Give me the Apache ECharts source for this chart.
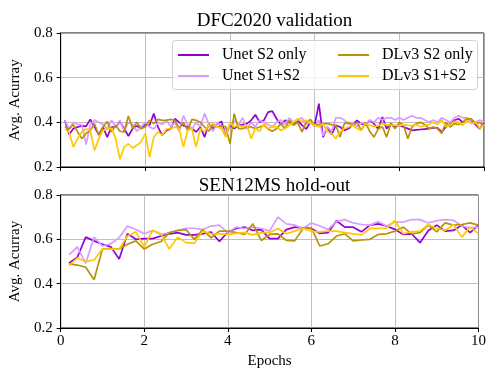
<!DOCTYPE html>
<html>
<head>
<meta charset="utf-8">
<script src="https://cdn.jsdelivr.net/npm/echarts@6/dist/echarts.min.js"></script>
<style>html,body{margin:0;padding:0;background:#fff;}#c{width:489px;height:370px;}</style>
</head>
<body>
<div id="c"></div>
<script>
const seriesNames = ['Unet S2 only', 'Unet S1+S2', 'DLv3 S2 only', 'DLv3 S1+S2'];
const colors = ['#9400D3', '#D99BFF', '#B8920B', '#FFC800'];
const xTicks = [0, 2, 4, 6, 8, 10];
const yTicks = [0.2, 0.4, 0.6, 0.8];

const epochsTop = [0.1,0.2,0.3,0.4,0.5,0.6,0.7,0.8,0.9,1.0,1.1,1.2,1.3,1.4,1.5,1.6,1.7,1.8,1.9,2.0,
  2.1,2.2,2.3,2.4,2.5,2.6,2.7,2.8,2.9,3.0,3.1,3.2,3.3,3.4,3.5,3.6,3.7,3.8,3.9,4.0,
  4.1,4.2,4.3,4.4,4.5,4.6,4.7,4.8,4.9,5.0,5.1,5.2,5.3,5.4,5.5,5.6,5.7,5.8,5.9,6.0,
  6.1,6.2,6.3,6.4,6.5,6.6,6.7,6.8,6.9,7.0,7.1,7.2,7.3,7.4,7.5,7.6,7.7,7.8,7.9,8.0,
  8.1,8.2,8.3,8.4,8.5,8.6,8.7,8.8,8.9,9.0,9.1,9.2,9.3,9.4,9.5,9.6,9.7,9.8,9.9,10.0];

const dfcUnetS2 = [0.409,0.345,0.372,0.379,0.384,0.382,0.413,0.379,0.345,0.379,
  0.334,0.379,0.379,0.404,0.372,0.339,0.372,0.384,0.372,0.390,
  0.387,0.439,0.379,0.342,0.364,0.370,0.416,0.400,0.385,0.379,
  0.372,0.357,0.379,0.334,0.394,0.372,0.394,0.404,0.342,0.387,
  0.372,0.387,0.390,0.394,0.409,0.434,0.400,0.409,0.446,0.450,
  0.416,0.390,0.409,0.400,0.390,0.409,0.387,0.370,0.400,0.387,
  0.484,0.334,0.379,0.345,0.387,0.379,0.364,0.372,0.390,0.409,
  0.394,0.387,0.409,0.394,0.370,0.424,0.372,0.394,0.379,0.387,
  0.379,0.372,0.364,0.366,0.368,0.370,0.372,0.376,0.375,0.357,
  0.379,0.394,0.409,0.416,0.400,0.416,0.409,0.390,0.370,0.400];
const dfcUnetS1S2 = [0.41,0.37,0.40,0.39,0.39,0.30,0.39,0.41,0.40,0.39,
  0.37,0.41,0.38,0.41,0.36,0.40,0.39,0.36,0.38,0.40,
  0.38,0.37,0.40,0.39,0.41,0.38,0.40,0.36,0.43,0.39,
  0.37,0.40,0.38,0.44,0.39,0.36,0.40,0.38,0.35,0.39,
  0.41,0.39,0.42,0.37,0.40,0.38,0.41,0.40,0.39,0.38,
  0.40,0.41,0.39,0.42,0.40,0.41,0.42,0.39,0.40,0.38,
  0.41,0.34,0.38,0.36,0.42,0.42,0.41,0.39,0.40,0.38,
  0.40,0.39,0.41,0.40,0.42,0.41,0.42,0.42,0.41,0.42,
  0.41,0.42,0.43,0.42,0.42,0.41,0.40,0.41,0.40,0.42,
  0.41,0.40,0.42,0.43,0.42,0.42,0.41,0.40,0.41,0.40];
const dfcDlS2 = [0.380,0.370,0.390,0.357,0.327,0.350,0.364,0.394,0.342,0.379,
  0.404,0.357,0.387,0.360,0.357,0.428,0.372,0.400,0.372,0.379,
  0.409,0.394,0.413,0.409,0.410,0.413,0.409,0.372,0.400,0.364,
  0.413,0.409,0.400,0.379,0.360,0.390,0.379,0.385,0.380,0.304,
  0.439,0.372,0.372,0.379,0.379,0.372,0.379,0.387,0.370,0.360,
  0.372,0.394,0.372,0.409,0.387,0.400,0.357,0.400,0.413,0.387,
  0.390,0.394,0.394,0.390,0.387,0.334,0.394,0.400,0.387,0.400,
  0.364,0.400,0.360,0.334,0.370,0.380,0.334,0.394,0.372,0.400,
  0.387,0.327,0.379,0.394,0.400,0.390,0.372,0.379,0.372,0.350,
  0.400,0.379,0.394,0.390,0.400,0.416,0.416,0.394,0.400,0.379];
const dfcDlS1S2 = [0.370,0.357,0.290,0.327,0.357,0.370,0.364,0.274,0.327,0.364,
  0.370,0.374,0.327,0.234,0.289,0.304,0.285,0.297,0.312,0.350,
  0.244,0.334,0.357,0.342,0.370,0.372,0.379,0.372,0.289,0.364,
  0.372,0.289,0.372,0.357,0.387,0.394,0.379,0.372,0.334,0.400,
  0.379,0.387,0.379,0.387,0.327,0.372,0.360,0.394,0.372,0.380,
  0.379,0.364,0.372,0.387,0.400,0.416,0.404,0.409,0.398,0.387,
  0.379,0.394,0.357,0.350,0.327,0.357,0.372,0.379,0.387,0.372,
  0.364,0.394,0.387,0.380,0.385,0.394,0.390,0.387,0.387,0.385,
  0.390,0.387,0.385,0.390,0.380,0.385,0.390,0.400,0.390,0.412,
  0.380,0.390,0.404,0.400,0.387,0.409,0.394,0.400,0.372,0.390];

const epochsBottom = [0.2,0.4,0.6,0.8,1.0,1.2,1.4,1.6,1.8,2.0,2.2,2.4,2.6,2.8,3.0,3.2,3.4,3.6,3.8,4.0,
  4.2,4.4,4.6,4.8,5.0,5.2,5.4,5.6,5.8,6.0,6.2,6.4,6.6,6.8,7.0,7.2,7.4,7.6,7.8,8.0,
  8.2,8.4,8.6,8.8,9.0,9.2,9.4,9.6,9.8,10.0];

const senUnetS2 = [0.492,0.519,0.610,0.593,0.578,0.566,0.511,0.625,0.600,0.603,
  0.603,0.615,0.625,0.630,0.620,0.620,0.625,0.633,0.590,0.633,
  0.649,0.655,0.640,0.644,0.603,0.603,0.644,0.655,0.652,0.649,
  0.627,0.630,0.684,0.655,0.655,0.634,0.664,0.670,0.660,0.645,
  0.622,0.625,0.585,0.640,0.664,0.637,0.640,0.664,0.630,0.664];
const senUnetS1S2 = [0.530,0.566,0.492,0.610,0.570,0.580,0.608,0.660,0.644,0.625,
  0.640,0.622,0.630,0.640,0.650,0.650,0.644,0.660,0.664,0.630,
  0.655,0.649,0.655,0.649,0.637,0.700,0.670,0.664,0.649,0.674,
  0.660,0.645,0.680,0.689,0.674,0.667,0.664,0.680,0.660,0.678,
  0.678,0.689,0.689,0.674,0.684,0.689,0.686,0.660,0.652,0.655];
const senDlS2 = [0.489,0.484,0.474,0.418,0.556,0.558,0.556,0.578,0.593,0.556,
  0.578,0.590,0.630,0.640,0.644,0.600,0.644,0.607,0.637,0.637,
  0.630,0.622,0.670,0.595,0.622,0.625,0.595,0.593,0.649,0.652,
  0.570,0.580,0.615,0.625,0.593,0.597,0.600,0.622,0.625,0.637,
  0.655,0.625,0.630,0.664,0.634,0.674,0.664,0.667,0.674,0.664];
const senDlS1S2 = [0.481,0.516,0.500,0.507,0.556,0.556,0.556,0.615,0.634,0.566,
  0.641,0.625,0.556,0.610,0.585,0.582,0.637,0.625,0.625,0.622,
  0.627,0.630,0.620,0.630,0.630,0.649,0.625,0.637,0.649,0.637,
  0.634,0.637,0.637,0.630,0.625,0.620,0.649,0.649,0.649,0.684,
  0.625,0.634,0.637,0.667,0.649,0.640,0.667,0.610,0.655,0.625];

const topVals = [dfcUnetS2, dfcUnetS1S2, dfcDlS2, dfcDlS1S2];
const botVals = [senUnetS2, senUnetS1S2, senDlS2, senDlS1S2];

const FONT = '"Liberation Serif", "Times New Roman", serif';
const zip = (xs, ys) => xs.map((x, i) => [x, ys[i]]);

function xAxis(gridIndex, showLabels) {
  return {
    type: 'value', gridIndex, min: xTicks[0], max: xTicks[xTicks.length - 1], interval: 2,
    axisLine: { show: true, onZero: false, lineStyle: { color: '#000', width: 1 } },
    axisTick: { show: true, inside: false, length: 4, lineStyle: { color: '#000' } },
    axisLabel: { show: showLabels, color: '#000', fontFamily: FONT, fontSize: 15, margin: 6 },
    splitLine: { show: true, lineStyle: { color: '#b0b0b0', width: 0.8 } },
    name: showLabels ? 'Epochs' : '', nameLocation: 'middle', nameGap: 26,
    nameTextStyle: { color: '#000', fontFamily: FONT, fontSize: 15 }
  };
}
function yAxis(gridIndex) {
  return {
    type: 'value', gridIndex, min: yTicks[0], max: yTicks[yTicks.length - 1], interval: 0.2,
    axisLine: { show: true, lineStyle: { color: '#000', width: 1 } },
    axisTick: { show: true, inside: false, length: 4, lineStyle: { color: '#000' } },
    axisLabel: { color: '#000', fontFamily: FONT, fontSize: 15, margin: 8,
      formatter: v => v.toFixed(1) },
    splitLine: { show: true, lineStyle: { color: '#b0b0b0', width: 0.8 } },
    name: 'Avg. Acurray', nameLocation: 'middle', nameGap: 31, nameRotate: 90,
    nameTextStyle: { color: '#000', fontFamily: FONT, fontSize: 15 }
  };
}

const series = [];
topVals.forEach((vals, i) => series.push({
  name: seriesNames[i], type: 'line', xAxisIndex: 0, yAxisIndex: 0,
  data: zip(epochsTop, vals), showSymbol: false, symbol: 'none',
  lineStyle: { color: colors[i], width: 1.7 }, itemStyle: { color: colors[i] },
  animation: false, z: 2 + i
}));
botVals.forEach((vals, i) => series.push({
  name: seriesNames[i], type: 'line', xAxisIndex: 1, yAxisIndex: 1,
  data: zip(epochsBottom, vals), showSymbol: false, symbol: 'none',
  lineStyle: { color: colors[i], width: 1.7 }, itemStyle: { color: colors[i] },
  animation: false, z: 2 + i
}));

const legendCommon = {
  orient: 'vertical', icon: 'rect', itemWidth: 31, itemHeight: 2, itemGap: 3,
  textStyle: { color: '#000', fontFamily: FONT, fontSize: 16, padding: [0, 0, 0, 8], lineHeight: 18 },
  selectedMode: false, top: 46, padding: 0
};

const chart = echarts.init(document.getElementById('c'), null, { renderer: 'canvas' });
chart.setOption({
  backgroundColor: '#fff',
  animation: false,
  title: [
    { text: 'DFC2020 validation', left: 269.5, top: 7, textAlign: 'center',
      textStyle: { fontFamily: FONT, fontSize: 19, fontWeight: 'normal', color: '#000' } },
    { text: 'SEN12MS hold-out', left: 269.5, top: 172, textAlign: 'center',
      textStyle: { fontFamily: FONT, fontSize: 19, fontWeight: 'normal', color: '#000' } }
  ],
  grid: [
    { left: 55, right: 5, top: 33, height: 134, show: true, borderColor: '#000', borderWidth: 1, backgroundColor: 'transparent' },
    { left: 55, right: 5, top: 195, height: 136, show: true, borderColor: '#000', borderWidth: 1, backgroundColor: 'transparent' }
  ],
  xAxis: [xAxis(0, false), xAxis(1, true)],
  yAxis: [yAxis(0), yAxis(1)],
  graphic: [{
    type: 'rect', left: 172, top: 40, z: 10,
    shape: { width: 305, height: 49, r: 3 },
    style: { fill: 'rgba(255,255,255,0.8)', stroke: '#d0d0d0', lineWidth: 1 }
  }],
  legend: [
    Object.assign({}, legendCommon, { left: 178, data: seriesNames.slice(0, 2), z: 20 }),
    Object.assign({}, legendCommon, { left: 338, data: seriesNames.slice(2, 4), z: 20 })
  ],
  series
});
</script>
</body>
</html>
